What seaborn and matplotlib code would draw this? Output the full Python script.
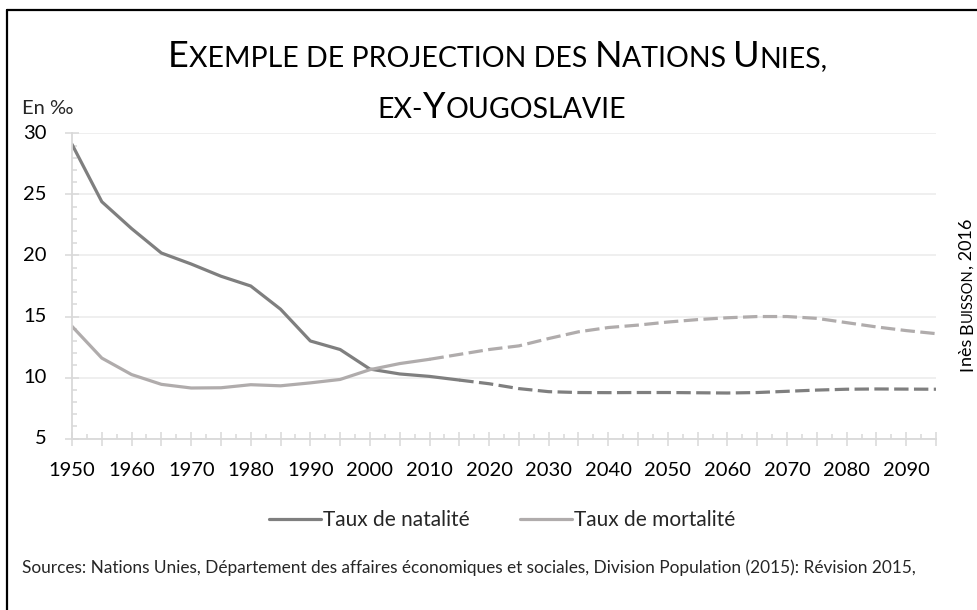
import matplotlib
matplotlib.use("Agg")
import matplotlib.pyplot as plt
from matplotlib.lines import Line2D
from matplotlib.ticker import MultipleLocator, FixedLocator
import seaborn as sns
import pandas as pd

# ---------------- data ----------------
years = list(range(1950, 2100, 5))
natalite = [29.1, 24.4, 22.2, 20.2, 19.3, 18.3, 17.5, 15.6, 13.0, 12.3,
            10.7, 10.3, 10.1, 9.8, 9.5, 9.1, 8.85, 8.78, 8.77, 8.78,
            8.78, 8.76, 8.74, 8.78, 8.88, 8.98, 9.05, 9.07, 9.06, 9.05]
mortalite = [14.2, 11.6, 10.25, 9.45, 9.15, 9.17, 9.42, 9.33, 9.57, 9.85,
             10.65, 11.15, 11.5, 11.9, 12.3, 12.6, 13.2, 13.75, 14.1, 14.3,
             14.55, 14.75, 14.9, 15.0, 15.0, 14.85, 14.5, 14.15, 13.85, 13.6]
nat_proj_start = 2015
mort_proj_start = 2010
series_names = ["Taux de natalité", "Taux de mortalité"]
y_ticks = [5, 10, 15, 20, 25, 30]

C_NAT = "#7f7f7f"
C_MORT = "#b0acac"
FONT = ["Lato", "DejaVu Sans"]

sns.set_theme(style="white")
plt.rcParams["font.family"] = FONT

df = pd.DataFrame({"annee": years, "nat": natalite, "mort": mortalite})

fig = plt.figure(figsize=(9.78, 6.10), dpi=100)
W, H = 978, 610
AX_L, AX_R, AX_T, AX_B = 72, 936, 133.3, 438.7
ax = fig.add_axes([AX_L / W, 1 - AX_B / H, (AX_R - AX_L) / W, (AX_B - AX_T) / H])

lw = 2.3
dash = (4.5, 1.7)
for col, start, color in [("nat", nat_proj_start, C_NAT), ("mort", mort_proj_start, C_MORT)]:
    obs = df[df["annee"] <= start]
    proj = df[df["annee"] >= start]
    sns.lineplot(data=obs, x="annee", y=col, ax=ax, color=color, lw=lw,
                 solid_capstyle="round", solid_joinstyle="round")
    sns.lineplot(data=proj, x="annee", y=col, ax=ax, color=color, lw=lw,
                 dashes=False, linestyle=(0, dash), dash_capstyle="butt")

ax.set_xlim(1950, 2095)
ax.set_ylim(5, 30)
ax.set_xlabel("")
ax.set_ylabel("")

# ticks
maj = list(range(1950, 2100, 5))
ax.xaxis.set_major_locator(FixedLocator(maj))
ax.set_xticklabels([str(y) if (y - 1950) % 10 == 0 else "" for y in maj])
ax.xaxis.set_minor_locator(MultipleLocator(2.5))
ax.set_yticks(y_ticks)
ax.yaxis.set_minor_locator(MultipleLocator(1))

tick_col = "#d9d9d9"
ax.tick_params(axis="both", which="major", direction="inout", length=10,
               width=1.1, color=tick_col, labelsize=14.5, labelcolor="#000000")
ax.tick_params(axis="both", which="minor", direction="in", length=3.6,
               width=1.1, color=tick_col)
ax.tick_params(axis="x", which="major", pad=12, bottom=True)
ax.tick_params(axis="y", which="major", left=True, labelleft=False)
ax.tick_params(axis="x", which="minor", bottom=True)
ax.tick_params(axis="y", which="minor", left=True)

# y tick labels placed with Excel-like spacing
ytrans = ax.get_yaxis_transform()
for v in y_ticks:
    ax.text((47 - AX_L) / (AX_R - AX_L), v, str(v), transform=ytrans, ha="right",
            va="center", fontsize=14.5, color="#000000", family=FONT, clip_on=False)

for s in ["top", "right"]:
    ax.spines[s].set_visible(False)
for s in ["left", "bottom"]:
    ax.spines[s].set_color(tick_col)
    ax.spines[s].set_linewidth(1.3)
ax.grid(axis="y", which="major", color="#ececec", lw=1.2)
ax.grid(axis="x", visible=False)
ax.set_axisbelow(True)

# legend
handles = [Line2D([], [], color=C_NAT, lw=lw), Line2D([], [], color=C_MORT, lw=lw)]
fig.legend(handles, series_names, loc="center", bbox_to_anchor=(502 / W, 1 - 520 / H),
           ncol=2, frameon=False, fontsize=15, handlelength=2.5, handletextpad=0.1,
           columnspacing=2.4)

# texts
fig.text(22 / W, 1 - 109 / H, "En ‰", fontsize=14.5, va="center", ha="left", family=FONT)
fig.text(22 / W, 1 - 568 / H, "Sources: Nations Unies, Département des affaires économiques et sociales, "
         "Division Population (2015): Révision 2015,", fontsize=12.4, va="center", ha="left",
         family=FONT)

# frame (left and top lines)
fig.add_artist(Line2D([7 / W, 7 / W], [0, 1 - 10 / H], color="black", lw=1.6,
                      transform=fig.transFigure))
fig.add_artist(Line2D([7 / W, 1], [1 - 10 / H, 1 - 10 / H], color="black", lw=1.6,
                      transform=fig.transFigure))

renderer = fig.canvas.get_renderer()


def small_caps_h(runs, cx, base_y, big, small):
    arts = []
    for txt, is_big in runs:
        t = fig.text(0, 1 - base_y / H, txt, fontsize=big if is_big else small,
                     ha="left", va="baseline", family=FONT, color="#000000")
        arts.append(t)
    widths = [a.get_window_extent(renderer).width for a in arts]
    x = cx - sum(widths) / 2
    for a, w in zip(arts, widths):
        a.set_x(x / W)
        x += w


def small_caps_v(runs, base_x, start_y, big, small):
    y = start_y
    for txt, kind in runs:
        size = big if kind in ("big", "normal") else small
        t = fig.text(base_x / W, 1 - y / H, txt, fontsize=size, rotation=90,
                     rotation_mode="anchor", ha="left", va="baseline",
                     family=FONT, color="#000000")
        h = t.get_window_extent(renderer).height
        y -= h


small_caps_h([("E", True), ("XEMPLE DE PROJECTION DES ", False), ("N", True),
              ("ATIONS ", False), ("U", True), ("NIES,", False)], 498, 67, 26, 20.5)
small_caps_h([("EX-", False), ("Y", True), ("OUGOSLAVIE", False)], 502, 118, 26, 20.5)

small_caps_v([("I", "big"), ("nès ", "normal"), ("B", "big"), ("UISSON", "small"),
              (", 2016", "normal")], 972, 371, 13, 10.5)

fig.savefig("out.png", dpi=100, facecolor="white")
